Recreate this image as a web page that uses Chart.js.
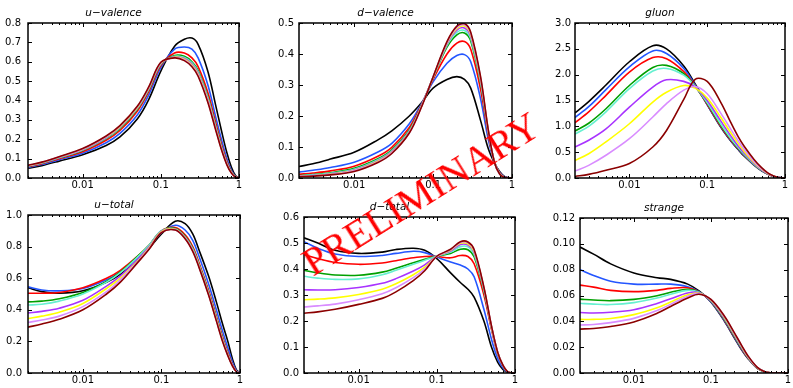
<!DOCTYPE html>
<html>
<head>
<meta charset="utf-8">
<script src="https://cdn.jsdelivr.net/npm/chart.js@4.4.1/dist/chart.umd.min.js"></script>
<style>
  html, body { margin: 0; padding: 0; background: #fff; }
  #wrap { position: relative; width: 793px; height: 388px; overflow: hidden; }
  .panel { position: absolute; }
  #stamp {
    position: absolute; left: 421px; top: 194px;
    transform: translate(-50%, -50%) rotate(-32deg);
    font-family: 'Liberation Serif', serif; font-size: 40px;
    color: #ff0000; white-space: nowrap; z-index: 10; line-height: 1;
  }
</style>
</head>
<body>
<div id="wrap">
  <div id="stamp">PRELIMINARY</div>
</div>
<script>
// x grid shared by every panel
const X = [0.002, 0.003, 0.005, 0.01, 0.02, 0.03, 0.05, 0.07, 0.1, 0.15, 0.2, 0.25, 0.3, 0.4, 0.5, 0.6, 0.7, 0.8, 0.9, 1];

// one row per curve: black, blue, red, green, cyan, purple, yellow, violet, darkred
const uValence = [
  [0.05, 0.064, 0.087, 0.12, 0.168, 0.212, 0.305, 0.405, 0.552, 0.68, 0.716, 0.722, 0.69, 0.55, 0.38, 0.24, 0.13, 0.055, 0.013, 0],
  [0.055, 0.07, 0.094, 0.128, 0.182, 0.23, 0.325, 0.428, 0.57, 0.665, 0.676, 0.665, 0.62, 0.48, 0.32, 0.195, 0.1, 0.04, 0.009, 0],
  [0.058, 0.074, 0.1, 0.136, 0.195, 0.245, 0.345, 0.445, 0.58, 0.645, 0.645, 0.62, 0.575, 0.44, 0.29, 0.17, 0.085, 0.033, 0.007, 0],
  [0.06, 0.077, 0.104, 0.142, 0.203, 0.255, 0.355, 0.455, 0.587, 0.632, 0.628, 0.6, 0.555, 0.42, 0.275, 0.16, 0.078, 0.03, 0.006, 0],
  [0.061, 0.078, 0.105, 0.144, 0.206, 0.258, 0.358, 0.458, 0.589, 0.628, 0.622, 0.594, 0.548, 0.413, 0.27, 0.156, 0.076, 0.029, 0.006, 0],
  [0.062, 0.079, 0.107, 0.146, 0.209, 0.261, 0.361, 0.461, 0.591, 0.625, 0.617, 0.588, 0.541, 0.406, 0.265, 0.152, 0.074, 0.028, 0.006, 0],
  [0.063, 0.08, 0.108, 0.148, 0.212, 0.264, 0.364, 0.464, 0.593, 0.623, 0.613, 0.583, 0.535, 0.4, 0.26, 0.149, 0.072, 0.027, 0.005, 0],
  [0.064, 0.081, 0.109, 0.15, 0.214, 0.267, 0.367, 0.467, 0.595, 0.621, 0.609, 0.578, 0.53, 0.395, 0.256, 0.146, 0.07, 0.026, 0.005, 0],
  [0.065, 0.082, 0.11, 0.152, 0.217, 0.27, 0.37, 0.47, 0.597, 0.62, 0.606, 0.574, 0.525, 0.39, 0.252, 0.143, 0.068, 0.025, 0.005, 0]
];
const dValence = [
  [0.037, 0.046, 0.061, 0.083, 0.123, 0.152, 0.2, 0.24, 0.29, 0.318, 0.327, 0.318, 0.29, 0.185, 0.095, 0.048, 0.02, 0.005, 0.001, 0],
  [0.019, 0.025, 0.034, 0.051, 0.084, 0.112, 0.175, 0.236, 0.31, 0.37, 0.395, 0.398, 0.375, 0.255, 0.125, 0.05, 0.018, 0.004, 0.0005, 0],
  [0.012, 0.016, 0.023, 0.038, 0.07, 0.099, 0.163, 0.232, 0.318, 0.4, 0.435, 0.44, 0.415, 0.285, 0.14, 0.05, 0.016, 0.003, 0.0003, 0],
  [0.008, 0.011, 0.017, 0.031, 0.062, 0.091, 0.155, 0.229, 0.323, 0.422, 0.462, 0.468, 0.442, 0.305, 0.148, 0.05, 0.014, 0.002, 0.0002, 0],
  [0.007, 0.01, 0.015, 0.028, 0.059, 0.088, 0.152, 0.228, 0.324, 0.428, 0.47, 0.476, 0.45, 0.31, 0.15, 0.05, 0.014, 0.002, 0, 0],
  [0.006, 0.008, 0.013, 0.026, 0.056, 0.085, 0.15, 0.227, 0.325, 0.432, 0.477, 0.484, 0.457, 0.316, 0.152, 0.05, 0.013, 0.002, 0, 0],
  [0.005, 0.007, 0.012, 0.024, 0.054, 0.083, 0.148, 0.226, 0.325, 0.435, 0.482, 0.49, 0.462, 0.32, 0.154, 0.05, 0.013, 0.002, 0, 0],
  [0.005, 0.007, 0.011, 0.023, 0.052, 0.081, 0.146, 0.225, 0.326, 0.437, 0.486, 0.494, 0.466, 0.323, 0.155, 0.05, 0.012, 0.002, 0, 0],
  [0.004, 0.006, 0.01, 0.021, 0.05, 0.079, 0.145, 0.224, 0.326, 0.44, 0.49, 0.498, 0.47, 0.326, 0.156, 0.05, 0.012, 0.002, 0, 0]
];
const gluon = [
  [1.26, 1.48, 1.8, 2.25, 2.56, 2.5, 2.17, 1.82, 1.42, 0.98, 0.72, 0.55, 0.42, 0.25, 0.14, 0.075, 0.035, 0.012, 0.002, 0],
  [1.17, 1.38, 1.71, 2.15, 2.46, 2.41, 2.12, 1.8, 1.42, 0.99, 0.73, 0.56, 0.43, 0.255, 0.145, 0.077, 0.036, 0.012, 0.002, 0],
  [1.07, 1.28, 1.6, 2.05, 2.33, 2.31, 2.06, 1.78, 1.43, 1.0, 0.74, 0.57, 0.44, 0.26, 0.148, 0.079, 0.037, 0.013, 0.002, 0],
  [0.91, 1.06, 1.34, 1.79, 2.14, 2.18, 2.02, 1.77, 1.45, 1.02, 0.76, 0.58, 0.45, 0.265, 0.15, 0.08, 0.038, 0.013, 0.002, 0],
  [0.85, 1.0, 1.28, 1.73, 2.07, 2.12, 1.99, 1.77, 1.46, 1.04, 0.77, 0.59, 0.455, 0.27, 0.153, 0.082, 0.039, 0.013, 0.002, 0],
  [0.6, 0.73, 0.95, 1.37, 1.76, 1.9, 1.87, 1.76, 1.5, 1.1, 0.82, 0.62, 0.48, 0.28, 0.16, 0.085, 0.04, 0.014, 0.002, 0],
  [0.34, 0.47, 0.7, 1.05, 1.47, 1.66, 1.79, 1.74, 1.55, 1.17, 0.88, 0.67, 0.51, 0.3, 0.17, 0.09, 0.042, 0.015, 0.002, 0],
  [0.135, 0.245, 0.44, 0.76, 1.18, 1.44, 1.7, 1.77, 1.63, 1.25, 0.95, 0.72, 0.55, 0.32, 0.18, 0.095, 0.044, 0.015, 0.002, 0],
  [0.03, 0.07, 0.15, 0.28, 0.6, 0.92, 1.52, 1.91, 1.87, 1.46, 1.08, 0.8, 0.61, 0.36, 0.2, 0.1, 0.046, 0.016, 0.002, 0]
];
const uTotal = [
  [0.54, 0.515, 0.505, 0.52, 0.575, 0.625, 0.715, 0.79, 0.88, 0.96, 0.945, 0.88, 0.78, 0.61, 0.45, 0.31, 0.2, 0.09, 0.02, 0],
  [0.545, 0.525, 0.52, 0.535, 0.59, 0.64, 0.73, 0.8, 0.89, 0.935, 0.905, 0.84, 0.74, 0.56, 0.4, 0.265, 0.16, 0.07, 0.015, 0],
  [0.505, 0.505, 0.51, 0.54, 0.6, 0.65, 0.74, 0.81, 0.9, 0.92, 0.875, 0.8, 0.7, 0.52, 0.36, 0.23, 0.13, 0.055, 0.01, 0],
  [0.45, 0.455, 0.47, 0.51, 0.58, 0.64, 0.74, 0.81, 0.9, 0.915, 0.865, 0.79, 0.69, 0.51, 0.35, 0.22, 0.12, 0.05, 0.009, 0],
  [0.43, 0.435, 0.455, 0.5, 0.575, 0.635, 0.735, 0.81, 0.9, 0.912, 0.86, 0.785, 0.685, 0.505, 0.345, 0.215, 0.118, 0.049, 0.009, 0],
  [0.38, 0.39, 0.41, 0.46, 0.55, 0.615, 0.72, 0.8, 0.898, 0.91, 0.858, 0.78, 0.68, 0.5, 0.34, 0.21, 0.115, 0.048, 0.009, 0],
  [0.345, 0.36, 0.385, 0.44, 0.535, 0.6, 0.71, 0.795, 0.895, 0.908, 0.855, 0.777, 0.677, 0.497, 0.337, 0.207, 0.113, 0.047, 0.008, 0],
  [0.32, 0.335, 0.36, 0.42, 0.515, 0.59, 0.705, 0.79, 0.89, 0.906, 0.852, 0.774, 0.673, 0.493, 0.333, 0.204, 0.111, 0.046, 0.008, 0],
  [0.29, 0.31, 0.34, 0.4, 0.5, 0.575, 0.7, 0.785, 0.888, 0.905, 0.85, 0.77, 0.67, 0.49, 0.33, 0.2, 0.11, 0.045, 0.008, 0]
];
const dTotal = [
  [0.52, 0.5, 0.472, 0.46, 0.465, 0.475, 0.48, 0.472, 0.44, 0.385, 0.348, 0.322, 0.292, 0.2, 0.1, 0.042, 0.014, 0.003, 0, 0],
  [0.505, 0.48, 0.458, 0.448, 0.452, 0.46, 0.468, 0.463, 0.446, 0.427, 0.415, 0.4, 0.37, 0.245, 0.13, 0.055, 0.02, 0.004, 0.0005, 0],
  [0.455, 0.44, 0.425, 0.418, 0.423, 0.432, 0.443, 0.448, 0.448, 0.443, 0.452, 0.448, 0.42, 0.3, 0.168, 0.074, 0.027, 0.005, 0.0005, 0],
  [0.395, 0.385, 0.377, 0.376, 0.388, 0.403, 0.424, 0.437, 0.449, 0.46, 0.476, 0.474, 0.447, 0.315, 0.175, 0.077, 0.028, 0.005, 0.0005, 0],
  [0.372, 0.365, 0.36, 0.362, 0.378, 0.395, 0.418, 0.434, 0.449, 0.465, 0.486, 0.485, 0.457, 0.32, 0.177, 0.078, 0.029, 0.005, 0.0005, 0],
  [0.32, 0.319, 0.32, 0.329, 0.345, 0.363, 0.392, 0.416, 0.449, 0.469, 0.494, 0.492, 0.464, 0.324, 0.178, 0.079, 0.029, 0.005, 0.0005, 0],
  [0.282, 0.284, 0.289, 0.302, 0.322, 0.343, 0.378, 0.407, 0.449, 0.472, 0.499, 0.497, 0.468, 0.327, 0.179, 0.079, 0.03, 0.005, 0.0005, 0],
  [0.254, 0.258, 0.265, 0.282, 0.305, 0.328, 0.367, 0.4, 0.449, 0.474, 0.502, 0.501, 0.471, 0.328, 0.18, 0.08, 0.03, 0.005, 0.0005, 0],
  [0.23, 0.235, 0.245, 0.264, 0.287, 0.312, 0.355, 0.393, 0.449, 0.476, 0.505, 0.504, 0.475, 0.33, 0.181, 0.08, 0.03, 0.005, 0.0005, 0]
];
const strange = [
  [0.0975, 0.092, 0.0845, 0.0775, 0.0738, 0.0725, 0.0688, 0.0635, 0.055, 0.04, 0.0275, 0.018, 0.0115, 0.0035, 0.0008, 0.0001, 0, 0, 0, 0],
  [0.08, 0.0755, 0.071, 0.0688, 0.0688, 0.0688, 0.0668, 0.063, 0.0552, 0.0405, 0.028, 0.0185, 0.0118, 0.0037, 0.0008, 0.0001, 0, 0, 0, 0],
  [0.068, 0.0665, 0.064, 0.063, 0.064, 0.0655, 0.066, 0.0628, 0.0555, 0.041, 0.0285, 0.019, 0.012, 0.0038, 0.0009, 0.0001, 0, 0, 0, 0],
  [0.0572, 0.0565, 0.056, 0.057, 0.0598, 0.0625, 0.0648, 0.0627, 0.0558, 0.0415, 0.029, 0.0195, 0.0123, 0.0039, 0.0009, 0.0001, 0, 0, 0, 0],
  [0.054, 0.0533, 0.053, 0.0545, 0.058, 0.061, 0.064, 0.0625, 0.056, 0.042, 0.0295, 0.0198, 0.0125, 0.004, 0.0009, 0.0001, 0, 0, 0, 0],
  [0.0468, 0.0465, 0.047, 0.049, 0.0538, 0.0575, 0.062, 0.0622, 0.0562, 0.0425, 0.03, 0.0202, 0.0128, 0.0041, 0.001, 0.0001, 0, 0, 0, 0],
  [0.0415, 0.0415, 0.0422, 0.0452, 0.0505, 0.055, 0.0605, 0.0618, 0.0565, 0.043, 0.0305, 0.0206, 0.013, 0.0042, 0.001, 0.0001, 0, 0, 0, 0],
  [0.0372, 0.0375, 0.039, 0.0423, 0.0483, 0.0532, 0.0595, 0.0614, 0.0568, 0.0435, 0.031, 0.021, 0.0133, 0.0043, 0.001, 0.0001, 0, 0, 0, 0],
  [0.034, 0.0345, 0.036, 0.0395, 0.0462, 0.0515, 0.058, 0.061, 0.057, 0.044, 0.0315, 0.0214, 0.0136, 0.0044, 0.001, 0.0001, 0, 0, 0, 0]
];

const titles = ['u\u2212valence', 'd\u2212valence', 'gluon', 'u\u2212total', 'd\u2212total', 'strange'];
const yMax = [0.8, 0.5, 3.0, 1.0, 0.6, 0.12];
const yStep = [0.1, 0.1, 0.5, 0.2, 0.1, 0.02];
const yDigits = [1, 1, 1, 1, 1, 2];
const panelData = [uValence, dValence, gluon, uTotal, dTotal, strange];

// styles / layout
const colors = ['#000000', '#2456ff', '#ff0000', '#00a000', '#66f0d0', '#a833ff', '#ffff00', '#d98cff', '#8b0000'];
// plot rectangles: left, top, right, bottom
const rects = [
  [28, 23, 239, 178], [299, 23, 512, 178], [575, 23, 785, 178],
  [28, 215, 240, 373], [304, 217, 515, 373], [580, 218, 788, 373]
];
const yPad = [7, 5, 4, 6, 5, 5];

Chart.defaults.font.family = "'DejaVu Sans', sans-serif";
Chart.defaults.color = '#000';

const isDecade = v => Math.abs(Math.log10(v) - Math.round(Math.log10(v))) < 1e-6;

// matplotlib-like frame with inward ticks on all sides
const frameTicks = {
  id: 'frameTicks',
  afterDatasetsDraw(chart) {
    const { ctx, chartArea: a, scales: { x, y } } = chart;
    ctx.save();
    ctx.strokeStyle = '#000';
    ctx.lineWidth = 1;
    ctx.beginPath();
    x.ticks.forEach(t => {
      const px = Math.round(x.getPixelForValue(t.value)) + 0.5;
      const len = isDecade(t.value) ? 4 : 2;
      ctx.moveTo(px, a.bottom); ctx.lineTo(px, a.bottom - len);
      ctx.moveTo(px, a.top); ctx.lineTo(px, a.top + len);
    });
    y.ticks.forEach(t => {
      const py = Math.round(y.getPixelForValue(t.value)) + 0.5;
      ctx.moveTo(a.left, py); ctx.lineTo(a.left + 4, py);
      ctx.moveTo(a.right, py); ctx.lineTo(a.right - 4, py);
    });
    ctx.stroke();
    ctx.lineWidth = 1.5;
    ctx.strokeRect(a.left, a.top, a.right - a.left, a.bottom - a.top);
    ctx.restore();
  }
};

const wrap = document.getElementById('wrap');

panelData.forEach((rows, p) => {
  const [L, T, R, B] = rects[p];
  const yw = 40, th = 18, xh = 16, rp = 8;
  const box = document.createElement('div');
  box.className = 'panel';
  box.style.left = (L - yw) + 'px';
  box.style.top = (T - th) + 'px';
  const cv = document.createElement('canvas');
  cv.width = R - L + yw + rp;
  cv.height = B - T + th + xh;
  box.appendChild(cv);
  wrap.appendChild(box);

  const datasets = rows.map((vals, i) => ({
    label: 'curve ' + (i + 1),
    data: X.map((x, k) => ({ x: x, y: vals[k] })),
    borderColor: colors[i],
    borderWidth: 1.6,
    pointRadius: 0,
    fill: false,
    tension: 0.35,
    order: rows.length - i
  }));

  new Chart(cv, {
    type: 'line',
    data: { datasets },
    plugins: [frameTicks],
    options: {
      responsive: false,
      animation: false,
      layout: { padding: { left: 0, right: rp, top: 0, bottom: 0 } },
      plugins: {
        legend: { display: false },
        tooltip: { enabled: false },
        title: {
          display: true,
          text: titles[p],
          color: '#000',
          font: { size: 10.5, style: 'italic', weight: 'normal', lineHeight: '12px' },
          padding: { top: 2, bottom: 4 }
        }
      },
      scales: {
        x: {
          type: 'logarithmic',
          min: 0.002,
          max: 1,
          grid: { display: false, drawTicks: false },
          border: { display: false },
          afterFit: s => { s.height = xh; },
          ticks: {
            autoSkip: false,
            maxRotation: 0,
            padding: 1,
            font: { size: 10 },
            callback: v => isDecade(v) ? (Math.abs(v - 1) < 1e-9 ? '1' : String(+v.toPrecision(3))) : ''
          }
        },
        y: {
          min: 0,
          max: yMax[p],
          grid: { display: false, drawTicks: false },
          border: { display: false },
          afterFit: s => { s.width = yw; },
          ticks: {
            stepSize: yStep[p],
            padding: yPad[p],
            font: { size: 10 },
            callback: v => (+v).toFixed(yDigits[p])
          }
        }
      }
    }
  });
});
</script>
</body>
</html>
